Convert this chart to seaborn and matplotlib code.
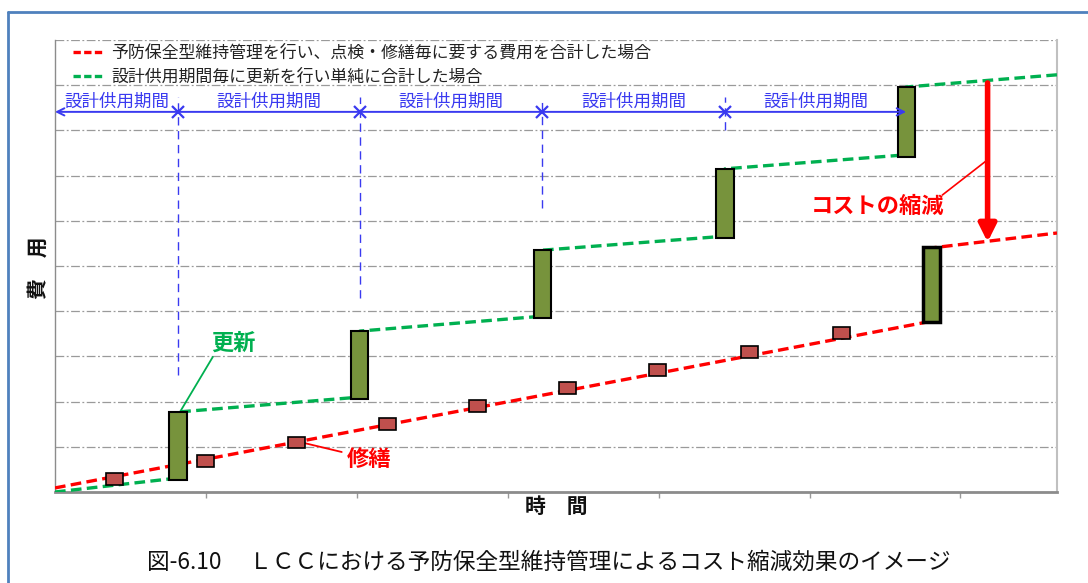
import numpy as np
import pandas as pd
import matplotlib
matplotlib.use("Agg")
import matplotlib.pyplot as plt
from matplotlib.lines import Line2D
import seaborn as sns

# ---------------- data ----------------
renew_x = [0.815, 2.02, 3.23, 4.44, 5.64]          # renewal times (end of each design period)
green_before = [0.31, 2.10, 3.89, 5.66, 7.46]     # cumulative cost just before renewal
green_after = [1.77, 3.56, 5.35, 7.15, 8.96]      # cumulative cost just after renewal
x_end = 6.64
green_start = 0.0
green_end = 9.23

red_start = 0.09
red_renew_x = 5.81
red_before = 3.78
red_after = 5.40
red_end = 5.73

repair_x = [0.397, 0.997, 1.601, 2.203, 2.801, 3.397, 3.993, 4.603, 5.212]
repair_y = [0.294, 0.686, 1.095, 1.504, 1.903, 2.30, 2.70, 3.10, 3.52]

period_bounds = [0.0, 0.815, 2.02, 3.23, 4.44, 5.64]
period_label = "設計供用期間"
divider_x = [0.815, 2.02, 3.23, 4.44]
divider_bottom = [2.59, 4.29, 6.28, 8.0]

reduction_x = 6.18
reduction_top = 9.05
reduction_bottom = 5.53

legend_labels = ["予防保全型維持管理を行い、点検・修繕毎に要する費用を合計した場合",
                 "設計供用期間毎に更新を行い単純に合計した場合"]
caption = "図-6.10　 ＬＣＣにおける予防保全型維持管理によるコスト縮減効果のイメージ"

# ---------------- style ----------------
sns.set_theme(style="white")
plt.rcParams["font.family"] = ["Noto Sans CJK JP", "DejaVu Sans"]

RED = "#FF0000"
GREEN = "#00B050"
OLIVE = "#77933C"
BRICK = "#C0504D"
BLUE = "#3A3AF0"

fig = plt.figure(figsize=(10.88, 5.83), dpi=100)
ax = fig.add_axes([55 / 1088, 1 - 492 / 583, 1002 / 1088, 452 / 583])

# polylines
gx = [0.0]
gy = [green_start]
for rx, b, a in zip(renew_x, green_before, green_after):
    gx += [rx, rx]
    gy += [b, a]
gx.append(x_end)
gy.append(green_end)
rxs = [0.0, red_renew_x, red_renew_x, x_end]
rys = [red_start, red_before, red_after, red_end]
df = pd.concat([
    pd.DataFrame({"x": gx, "y": gy, "series": "green"}),
    pd.DataFrame({"x": rxs, "y": rys, "series": "red"}),
], ignore_index=True)

sns.lineplot(data=df, x="x", y="y", hue="series", palette={"green": GREEN, "red": RED},
             sort=False, estimator=None, legend=False, linewidth=2.4, ax=ax, zorder=3)
for ln in ax.lines:
    ln.set_dashes([3.2, 1.6])

# renewal bars
gb = np.array(green_before)
ga = np.array(green_after)
ax.bar(renew_x, ga - gb + 0.05, bottom=gb - 0.05, width=0.113, color=OLIVE,
       edgecolor="black", linewidth=1.5, zorder=4)
ax.bar([red_renew_x], [red_after - red_before + 0.03], bottom=[red_before - 0.02], width=0.113,
       color=OLIVE, edgecolor="black", linewidth=2.5, zorder=4)
# repair markers
ax.bar(repair_x, 0.265, bottom=np.array(repair_y) - 0.1325, width=0.113, color=BRICK,
       edgecolor="black", linewidth=1.2, zorder=4)

# axes formatting
ax.set_xlim(0, x_end)
ax.set_ylim(0, 10)
ax.set_yticks(range(0, 11))
ax.set_yticklabels([])
ax.set_xticks([1, 2, 3, 4, 5, 6])
ax.set_xticklabels([])
ax.tick_params(axis="y", length=0)
ax.tick_params(axis="x", length=4, direction="out", color="#999999", width=1, bottom=True)
ax.yaxis.grid(True, linestyle=(0, (7, 2, 1.5, 2)), color="#9A9A9A", linewidth=0.9)
ax.xaxis.grid(False)
ax.spines["top"].set_visible(False)
ax.spines["left"].set_color("#8C8C8C")
ax.spines["left"].set_linewidth(1.0)
ax.spines["bottom"].set_color("#8C8C8C")
ax.spines["bottom"].set_linewidth(2.0)
ax.spines["right"].set_color("#C0C0C0")
ax.spines["right"].set_linewidth(1.5)

ax.set_xlabel("時　間", fontsize=15, fontweight="bold", color="#111111")
ax.xaxis.set_label_coords(0.5, -0.008)
ax.set_ylabel("費　用", fontsize=15, fontweight="bold", color="#111111")
ax.yaxis.set_label_coords(-0.006, 0.496)

# design period brackets
arrow_y = 8.41
ax.annotate("", xy=(period_bounds[-1], arrow_y), xytext=(period_bounds[0], arrow_y),
            arrowprops=dict(arrowstyle="<->", color=BLUE, lw=1.4, shrinkA=0, shrinkB=0,
                            mutation_scale=13), zorder=5)
ax.plot(divider_x, [arrow_y] * len(divider_x), linestyle="none", marker="x", markersize=8,
        markeredgewidth=1.6, color=BLUE, zorder=5)
ax.vlines(divider_x, divider_bottom, 8.75, colors=BLUE, linestyles=(0, (6, 4)), linewidth=1.0,
          zorder=2)
for a, b in zip(period_bounds[:-1], period_bounds[1:]):
    ax.text((a + b) / 2, 8.64, period_label, ha="center", va="center", fontsize=12.6, color=BLUE,
            zorder=5)

# annotations
ax.text(1.185, 3.30, "更新", ha="center", va="center", fontsize=16, fontweight="bold", color=GREEN)
ax.plot([1.046, 0.828], [2.99, 1.77], color=GREEN, lw=1.3, zorder=3)
ax.text(2.08, 0.71, "修繕", ha="center", va="center", fontsize=16, fontweight="bold", color=RED)
ax.plot([1.656, 1.90], [1.08, 0.885], color=RED, lw=1.3, zorder=3)
ax.text(5.45, 6.31, "コストの縮減", ha="center", va="center", fontsize=16, fontweight="bold", color=RED)
ax.plot([5.88, 6.18], [6.57, 7.35], color=RED, lw=1.2, zorder=3)
ax.annotate("", xy=(reduction_x, reduction_bottom), xytext=(reduction_x, reduction_top),
            arrowprops=dict(arrowstyle="-|>", color=RED, lw=4, shrinkA=0, shrinkB=0,
                            mutation_scale=26), zorder=6)

# legend
handles = [Line2D([0], [0], color=RED, lw=2.4, dashes=(2.2, 1.0)),
           Line2D([0], [0], color=GREEN, lw=2.4, dashes=(2.2, 1.0))]
leg = ax.legend(handles, legend_labels, loc="upper left", bbox_to_anchor=(0.018, 0.991),
                frameon=False, fontsize=12.2, handlelength=1.9, handletextpad=0.35,
                labelspacing=0.33, borderpad=0, borderaxespad=0)
for t in leg.get_texts():
    t.set_color("#222222")

# caption & outer frame
fig.text(0.5046, 1 - 562 / 583, caption, ha="center", va="center", fontsize=16.3, color="#111111")
fig.add_artist(Line2D([8 / 1088, 8 / 1088], [0, 1 - 12 / 583], transform=fig.transFigure,
                      color="#4F81BD", lw=2))
fig.add_artist(Line2D([8 / 1088, 1], [1 - 12 / 583, 1 - 12 / 583], transform=fig.transFigure,
                      color="#4F81BD", lw=2))

fig.savefig("out.png", dpi=100)
